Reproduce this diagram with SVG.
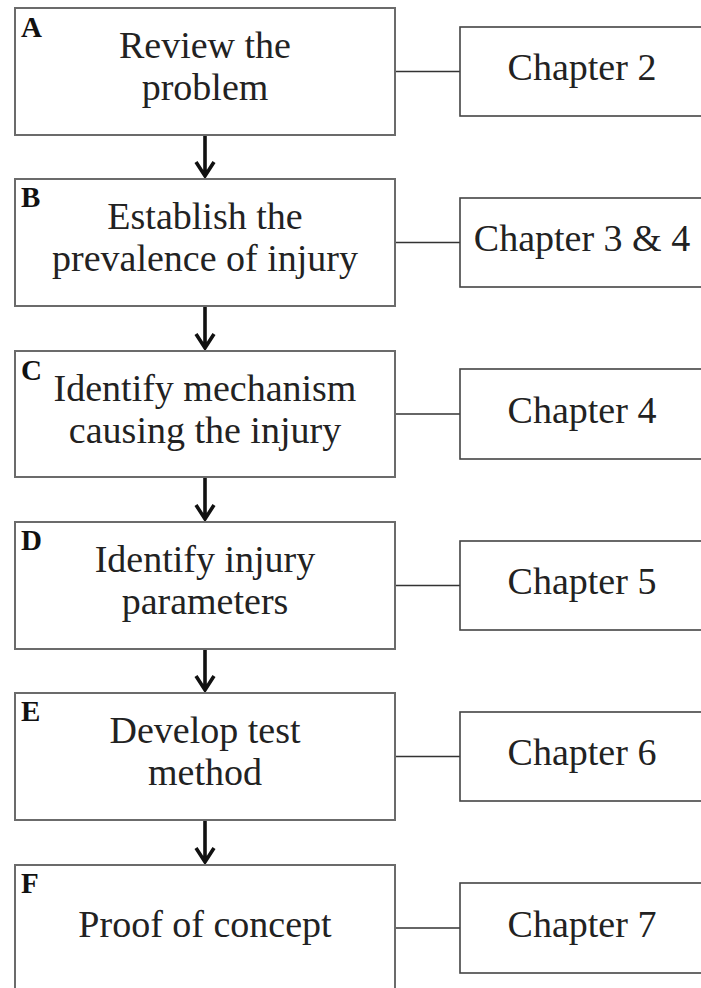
<svg xmlns="http://www.w3.org/2000/svg" width="701" height="988" viewBox="0 0 701 988">
<style>
.main{fill:#fff;stroke:#6b6b6b;stroke-width:2}
.ch{fill:#fff;stroke:#444;stroke-width:1.6}
.t{font-family:"Liberation Serif","Times New Roman",serif;font-size:38px;fill:#222;text-anchor:middle}
.lab{font-family:"Liberation Serif","Times New Roman",serif;font-size:29px;font-weight:bold;fill:#111}
.link{stroke:#333;stroke-width:1.6;fill:none}
.arr{stroke:#111;stroke-width:3.6;fill:none}
</style>
<rect width="701" height="988" fill="#fff"/>
<g id="connectors">
<line class="link" x1="395" y1="71.5" x2="460" y2="71.5"/>
<line class="link" x1="395" y1="242.5" x2="460" y2="242.5"/>
<line class="link" x1="395" y1="414" x2="460" y2="414"/>
<line class="link" x1="395" y1="585.5" x2="460" y2="585.5"/>
<line class="link" x1="395" y1="756.5" x2="460" y2="756.5"/>
<line class="link" x1="395" y1="928" x2="460" y2="928"/>
<path class="arr" d="M205 135V176M196 162L205 176L214 162"/>
<path class="arr" d="M205 306V348M196 334L205 348L214 334"/>
<path class="arr" d="M205 477V519M196 505L205 519L214 505"/>
<path class="arr" d="M205 649V690M196 676L205 690L214 676"/>
<path class="arr" d="M205 820V862M196 848L205 862L214 848"/>
</g>
<g id="A">
<rect class="main" x="15" y="8" width="380" height="127"/>
<text class="lab" x="21" y="37">A</text>
<text class="t" x="205" y="58">Review the</text>
<text class="t" x="205" y="100">problem</text>
</g>
<g id="B">
<rect class="main" x="15" y="179" width="380" height="127"/>
<text class="lab" x="21" y="207">B</text>
<text class="t" x="205" y="229">Establish the</text>
<text class="t" x="205" y="271">prevalence of injury</text>
</g>
<g id="C">
<rect class="main" x="15" y="351" width="380" height="126"/>
<text class="lab" x="21" y="380">C</text>
<text class="t" x="205" y="401">Identify mechanism</text>
<text class="t" x="205" y="443">causing the injury</text>
</g>
<g id="D">
<rect class="main" x="15" y="522" width="380" height="127"/>
<text class="lab" x="21" y="550">D</text>
<text class="t" x="205" y="572">Identify injury</text>
<text class="t" x="205" y="614">parameters</text>
</g>
<g id="E">
<rect class="main" x="15" y="693" width="380" height="127"/>
<text class="lab" x="21" y="721">E</text>
<text class="t" x="205" y="743">Develop test</text>
<text class="t" x="205" y="785">method</text>
</g>
<g id="F">
<rect class="main" x="15" y="865" width="380" height="140"/>
<text class="lab" x="21" y="893">F</text>
<text class="t" x="205" y="937">Proof of concept</text>
</g>
<g id="ch2">
<rect class="ch" x="460" y="27" width="260" height="89"/>
<text class="t" x="582" y="80">Chapter 2</text>
</g>
<g id="ch34">
<rect class="ch" x="460" y="198" width="260" height="89"/>
<text class="t" x="582" y="251">Chapter 3 &amp; 4</text>
</g>
<g id="ch4">
<rect class="ch" x="460" y="369" width="260" height="90"/>
<text class="t" x="582" y="423">Chapter 4</text>
</g>
<g id="ch5">
<rect class="ch" x="460" y="541" width="260" height="89"/>
<text class="t" x="582" y="594">Chapter 5</text>
</g>
<g id="ch6">
<rect class="ch" x="460" y="712" width="260" height="89"/>
<text class="t" x="582" y="765">Chapter 6</text>
</g>
<g id="ch7">
<rect class="ch" x="460" y="883" width="260" height="90"/>
<text class="t" x="582" y="937">Chapter 7</text>
</g>
</svg>
